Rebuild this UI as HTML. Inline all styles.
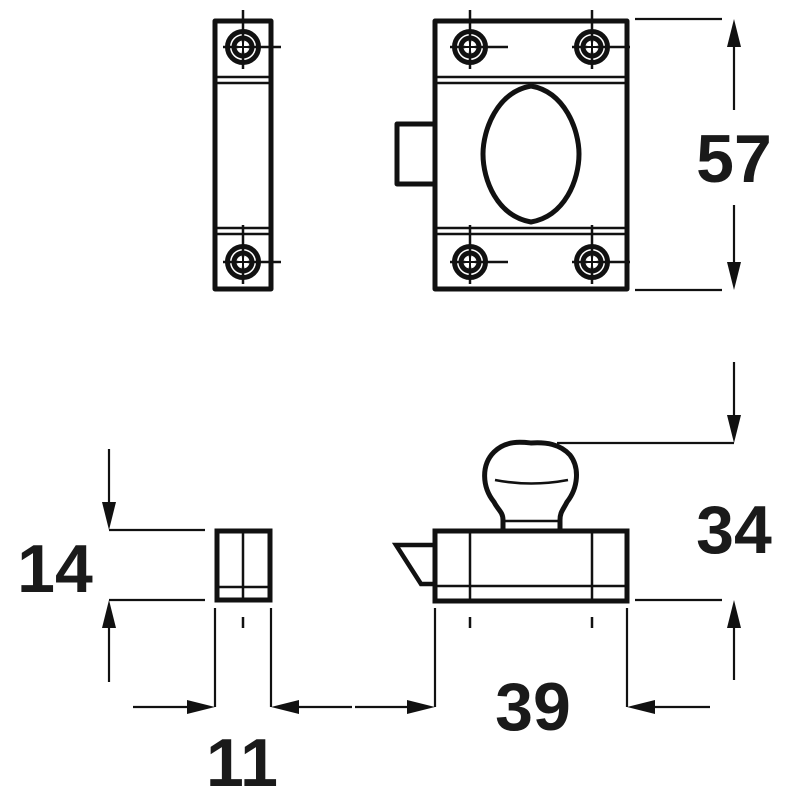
<!DOCTYPE html>
<html><head><meta charset="utf-8"><style>
html,body{margin:0;padding:0;background:#fff}
svg{display:block}
text{font-family:"Liberation Sans",sans-serif;font-weight:bold;fill:#1a1a1a}
</style></head><body>
<svg width="800" height="800" viewBox="0 0 800 800" xmlns="http://www.w3.org/2000/svg">
<defs>
<g id="scr">
<circle r="15.5" fill="none" stroke="#111" stroke-width="5"/>
<circle r="9" fill="none" stroke="#111" stroke-width="5"/>
<circle r="5" fill="#fff"/>
<line x1="-6" y1="0" x2="6" y2="0" stroke="#111" stroke-width="2"/>
<line x1="0" y1="-6" x2="0" y2="6" stroke="#111" stroke-width="2"/>
</g>
<g id="cr" stroke="#111" stroke-width="2.5">
<line x1="0" y1="-37" x2="0" y2="22"/>
<line x1="-20" y1="0" x2="38" y2="0"/>
</g>
</defs>
<g fill="none" stroke="#111" stroke-linejoin="round">
<rect x="215" y="21" width="56" height="268" stroke-width="5"/>
<g stroke-width="2.5">
<line x1="217" y1="77" x2="269" y2="77"/><line x1="217" y1="83" x2="269" y2="83"/>
<line x1="217" y1="228" x2="269" y2="228"/><line x1="217" y1="234" x2="269" y2="234"/>
</g>
<rect x="435" y="21" width="192" height="268" stroke-width="5"/>
<g stroke-width="2.5">
<line x1="437" y1="77" x2="625" y2="77"/><line x1="437" y1="83" x2="625" y2="83"/>
<line x1="437" y1="228" x2="625" y2="228"/><line x1="437" y1="234" x2="625" y2="234"/>
</g>
<path d="M433 124 H397 V184 H433" stroke-width="5"/>
<path d="M531 86 C565 92 579 130 579 154 C579 180 565 216 531 222 C497 216 483 180 483 154 C483 130 497 92 531 86 Z" stroke-width="5"/>
</g>
<g>
<use href="#cr" x="243" y="47"/><use href="#scr" x="243" y="47"/>
<use href="#cr" x="243" y="262"/><use href="#scr" x="243" y="262"/>
<use href="#cr" x="470" y="47"/><use href="#scr" x="470" y="47"/>
<use href="#cr" x="592" y="47"/><use href="#scr" x="592" y="47"/>
<use href="#cr" x="470" y="262"/><use href="#scr" x="470" y="262"/>
<use href="#cr" x="592" y="262"/><use href="#scr" x="592" y="262"/>
</g>
<g fill="none" stroke="#111">
<rect x="217" y="531" width="53" height="69" stroke-width="5"/>
<line x1="243" y1="532" x2="243" y2="598" stroke-width="2.5"/>
<line x1="218" y1="587" x2="269" y2="587" stroke-width="2.5"/>
<line x1="243" y1="617" x2="243" y2="628" stroke-width="2.5"/>
<rect x="435" y="531" width="192" height="70" stroke-width="5"/>
<line x1="470" y1="533" x2="470" y2="599" stroke-width="2.5"/>
<line x1="592" y1="533" x2="592" y2="599" stroke-width="2.5"/>
<line x1="437" y1="586" x2="625" y2="586" stroke-width="2.5"/>
<line x1="470" y1="617" x2="470" y2="628" stroke-width="2.5"/>
<line x1="592" y1="617" x2="592" y2="628" stroke-width="2.5"/>
<path d="M433 545 H396 L421 584 H433" stroke-width="4.5"/>
<path d="M503 531 V520 C503 512 498 510 494 502 C482 487 481 465 494 452 C506 440 522 442 531 443 C546 442 560 444 570 455 C580 468 578 488 567 502 C563 510 560 512 560 520 V531" stroke-width="5"/>
<line x1="505" y1="521" x2="558" y2="521" stroke-width="2.5"/>
<path d="M495 480 Q531 487 568 480" stroke-width="2.5"/>
</g>
<g stroke="#111" stroke-width="2.2" fill="none">
<line x1="635" y1="19" x2="722" y2="19"/><line x1="635" y1="290" x2="722" y2="290"/>
<line x1="734" y1="40" x2="734" y2="110"/><line x1="734" y1="205" x2="734" y2="268"/>
<line x1="557" y1="443" x2="734" y2="443"/><line x1="734" y1="362" x2="734" y2="420"/>
<line x1="635" y1="600" x2="722" y2="600"/><line x1="734" y1="622" x2="734" y2="680"/>
<line x1="109" y1="449" x2="109" y2="508"/><line x1="109" y1="530" x2="205" y2="530"/>
<line x1="109" y1="600" x2="205" y2="600"/><line x1="109" y1="622" x2="109" y2="682"/>
<line x1="215" y1="608" x2="215" y2="707"/><line x1="271" y1="608" x2="271" y2="707"/>
<line x1="435" y1="608" x2="435" y2="707"/><line x1="627" y1="608" x2="627" y2="707"/>
<line x1="133" y1="707" x2="195" y2="707"/>
<line x1="290" y1="707" x2="352" y2="707"/><line x1="355" y1="707" x2="415" y2="707"/>
<line x1="648" y1="707" x2="710" y2="707"/>
</g>
<g fill="#111">
<polygon points="734,19 727,47 741,47"/>
<polygon points="734,290 727,262 741,262"/>
<polygon points="734,443 727,415 741,415"/>
<polygon points="734,600 727,628 741,628"/>
<polygon points="109,530 102,502 116,502"/>
<polygon points="109,600 102,628 116,628"/>
<polygon points="215,707 187,700 187,714"/>
<polygon points="271,707 299,700 299,714"/>
<polygon points="435,707 407,700 407,714"/>
<polygon points="627,707 655,700 655,714"/>
</g>
<text x="734" y="182" font-size="68" text-anchor="middle">57</text>
<text x="734" y="553" font-size="68" text-anchor="middle">34</text>
<text x="55" y="592" font-size="68" text-anchor="middle">14</text>
<text x="242" y="786" font-size="68" text-anchor="middle">11</text>
<text x="533" y="730" font-size="68" text-anchor="middle">39</text>
</svg>
</body></html>
